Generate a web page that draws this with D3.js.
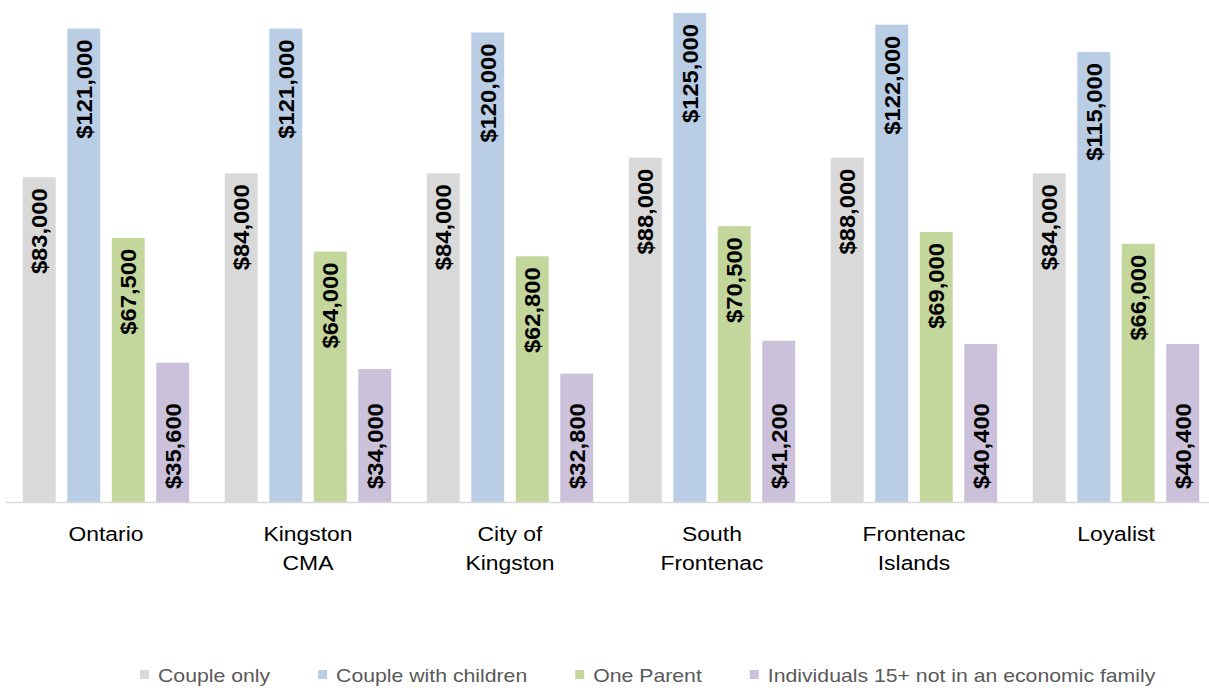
<!DOCTYPE html>
<html>
<head>
<meta charset="utf-8">
<script src="https://cdn.jsdelivr.net/npm/d3@7"></script>
<style>
  body { margin: 0; background: #fff; }
  svg { display: block; font-family: "Liberation Sans", Arial, sans-serif; }
</style>
</head>
<body>
<div id="chart"></div>
<script>
// Data
const categories = [["Ontario"], ["Kingston", "CMA"], ["City of", "Kingston"], ["South", "Frontenac"], ["Frontenac", "Islands"], ["Loyalist"]];
const seriesNames = ["Couple only", "Couple with children", "One Parent", "Individuals 15+ not in an economic family"];
const coupleOnly = [83000, 84000, 84000, 88000, 88000, 84000];
const coupleWithChildren = [121000, 121000, 120000, 125000, 122000, 115000];
const oneParent = [67500, 64000, 62800, 70500, 69000, 66000];
const individuals = [35600, 34000, 32800, 41200, 40400, 40400];
const seriesValues = [coupleOnly, coupleWithChildren, oneParent, individuals];
const colors = ["#d9d9d9", "#b9cde5", "#c3d69b", "#ccc1da"];

const W = 1209, H = 690;
const svg = d3.select("#chart").append("svg").attr("width", W).attr("height", H);

const catKeys = categories.map(c => c.join(" "));
const x0 = d3.scaleBand().domain(catKeys).range([5, 1217]).paddingInner(0);
const x1 = d3.scaleBand().domain(d3.range(seriesNames.length))
             .range([0, x0.bandwidth()]).paddingInner(0.26).paddingOuter(0.4);
const y = d3.scaleLinear().domain([0, 130000]).range([502, -6.6]);

const fmt = d => "$" + d3.format(",")(d);

// bars
const groups = svg.append("g").selectAll("g")
  .data(catKeys)
  .join("g")
  .attr("transform", d => `translate(${x0(d)},0)`);

groups.selectAll("rect")
  .data((d, i) => seriesValues.map((s, j) => ({ j, v: s[i] })))
  .join("rect")
  .attr("x", d => x1(d.j))
  .attr("y", d => y(d.v))
  .attr("width", x1.bandwidth())
  .attr("height", d => y(0) - y(d.v))
  .attr("fill", d => colors[d.j]);

// baseline
svg.append("line")
  .attr("x1", 6).attr("x2", W)
  .attr("y1", y(0) + 0.5).attr("y2", y(0) + 0.5)
  .attr("stroke", "#d9d9d9").attr("stroke-width", 1.5);

// value labels (rotated)
groups.selectAll("text")
  .data((d, i) => seriesValues.map((s, j) => ({ j, v: s[i] })))
  .join("text")
  .attr("transform", d => {
    const cx = x1(d.j) + x1.bandwidth() / 2;
    const ty = d.j === 3 ? y(0) - 13 : y(d.v) + 11;
    return `translate(${cx},${ty}) rotate(-90) scale(1.08,1)`;
  })
  .attr("dy", "0.36em")
  .attr("text-anchor", d => d.j === 3 ? "start" : "end")
  .attr("font-size", 22)
  .attr("font-weight", "bold")
  .attr("fill", "#000")
  .text(d => fmt(d.v));

// category labels
svg.append("g").selectAll("text")
  .data(categories)
  .join("text")
  .attr("transform", (d, i) => `translate(${x0(catKeys[i]) + x0.bandwidth() / 2},541) scale(1.09,1)`)
  .attr("text-anchor", "middle")
  .attr("font-size", 21)
  .attr("fill", "#000")
  .selectAll("tspan")
  .data(d => d)
  .join("tspan")
  .attr("x", 0)
  .attr("dy", (d, i) => i === 0 ? 0 : 29)
  .text(d => d);

// legend
const legend = svg.append("g");
let lx = 140;
seriesNames.forEach((name, i) => {
  legend.append("rect")
    .attr("x", lx).attr("y", 670)
    .attr("width", 9).attr("height", 9)
    .attr("fill", colors[i]);
  const t = legend.append("text")
    .attr("transform", `translate(${lx + 18},682) scale(1.18,1)`)
    .attr("font-size", 18)
    .attr("fill", "#595959")
    .text(name);
  lx += 18 + t.node().getComputedTextLength() * 1.18 + 48;
});
</script>
</body>
</html>
